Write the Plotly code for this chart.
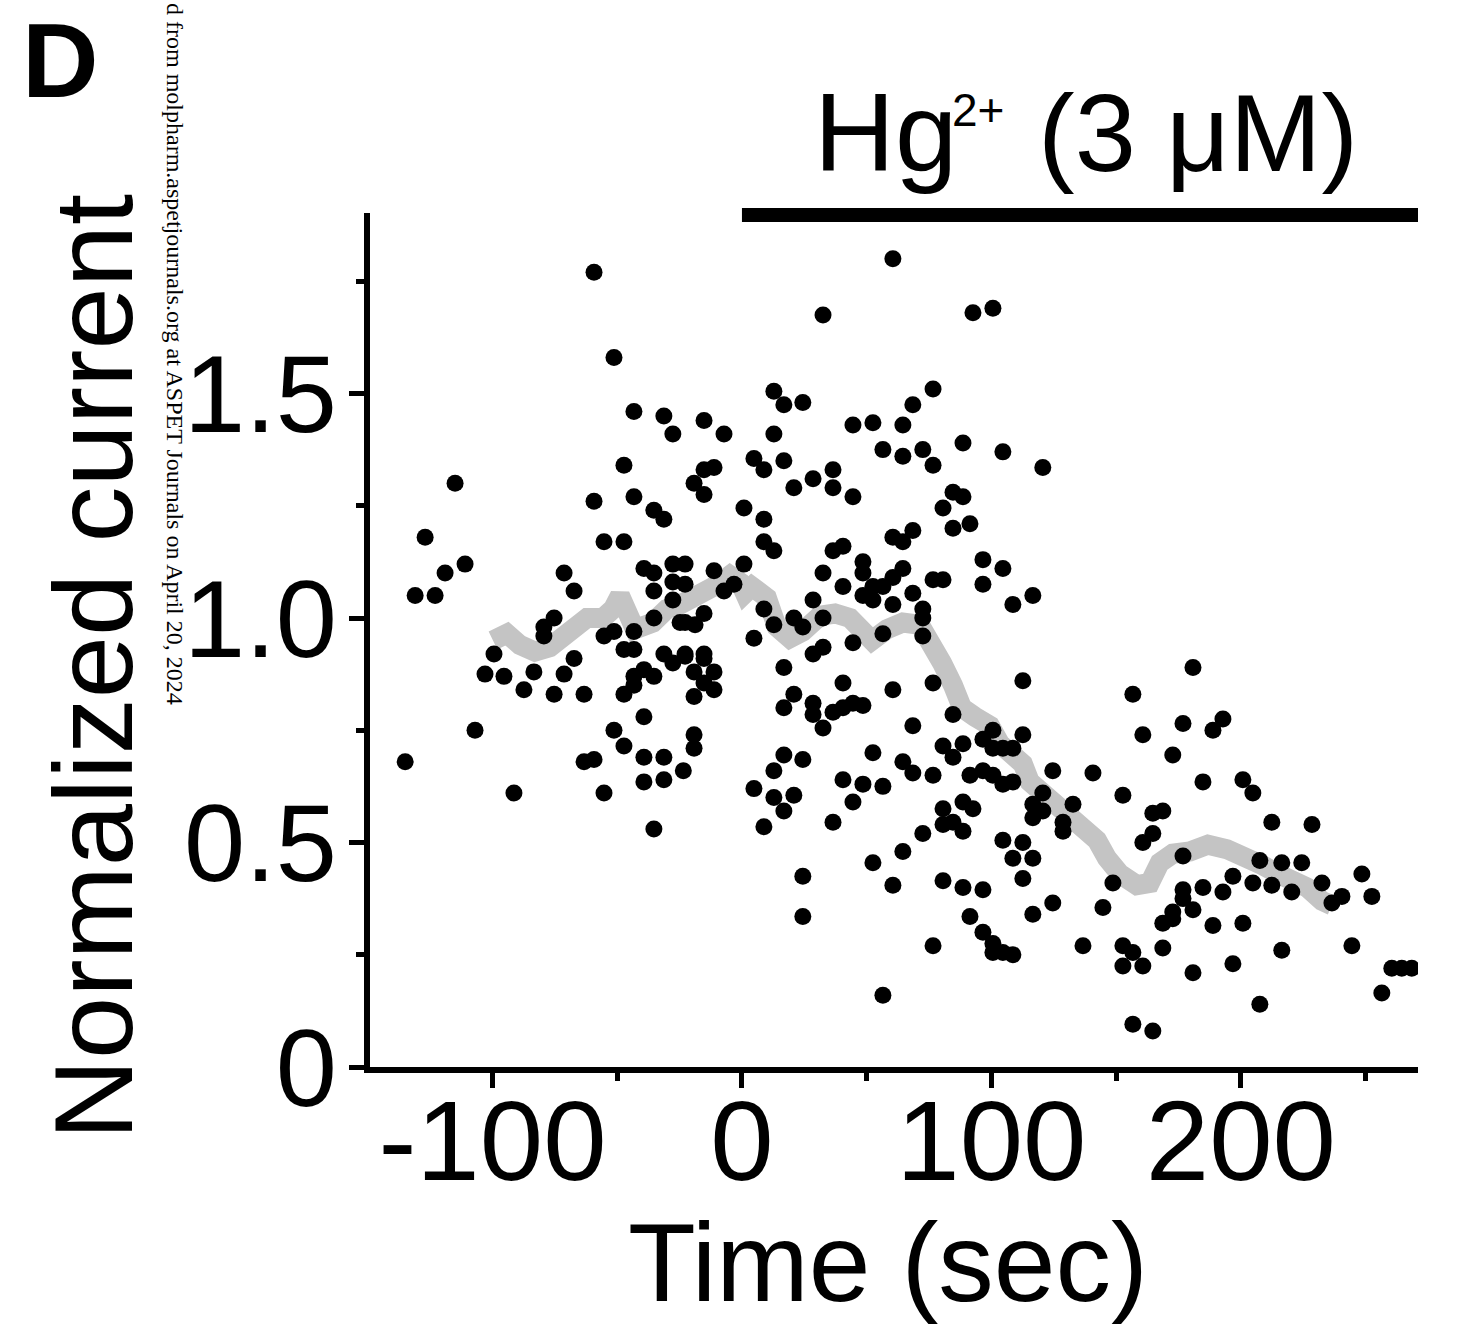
import plotly.graph_objects as go

# ---------------- data ----------------
time_sec = [
    -135, -131, -127, -123, -119, -115, -111, -107, -103, -99.4, -95.4, -91.4, -87.4, -83.4,
    -79.4, -79.4, -75.3, -75.3, -71.3, -71.3, -67.3, -67.3, -63.3, -63.3,
    -59.3, -59.3, -59.3, -55.3, -55.3, -55.3, -51.3, -51.3, -51.3,
    -47.3, -47.3, -47.3, -47.3, -47.3, -43.3, -43.3, -43.3, -43.3, -43.3, -43.3,
    -39.3, -39.3, -39.3, -39.3, -39.3, -35.3, -35.3, -35.3, -35.3, -35.3, -35.3,
    -31.3, -31.3, -31.3, -31.3, -31.3, -27.7, -27.7, -27.7, -27.7, -27.7,
    -24.8, -23.5, -22.8, -22.8, -22.8, -22.8, -22.8,
    -19.2, -18.8, -19.2, -19.2, -19.2, -19.2,
    -15.2, -15.2, -15.2, -15.2, -15.2, -15.2, -15.2,
    -11.2, -11.2, -11.2, -11.2, -7.2, -7.2, -3.2, 0.8, 0.8,
    4.8, 4.8, 4.8, 8.8, 8.8, 8.8, 8.8, 8.8,
    12.8, 12.8, 12.8, 12.8, 12.8, 12.8, 16.8, 16.8, 16.8, 16.8, 16.8, 16.8,
    20.8, 20.8, 20.8, 20.8, 24.4, 24.4, 24.4, 24.4, 24.4,
    28.5, 28.5, 28.5, 28.5, 28.5, 32.5, 32.5, 32.5, 32.5, 32.5,
    36.5, 36.5, 36.5, 36.5, 36.5, 40.5, 40.5, 40.5, 40.5, 40.5,
    44.5, 44.5, 44.5, 44.5, 44.5, 48.5, 48.5, 48.5, 48.5, 48.5,
    52.5, 52.5, 52.5, 52.5, 52.5, 56.5, 56.5, 56.5, 56.5, 56.5,
    60.5, 60.5, 60.5, 60.5, 60.5, 60.5, 64.5, 64.5, 64.5, 64.5, 64.5, 64.5,
    68.5, 68.5, 68.5, 68.5, 68.5, 72.5, 72.5, 72.5, 72.5, 72.5,
    76.6, 76.6, 76.6, 76.6, 76.6, 76.6, 80.6, 80.6, 80.6, 80.6, 80.6, 80.6,
    84.6, 84.6, 84.6, 84.6, 84.6, 88.6, 88.6, 88.6, 88.6, 88.6, 88.6,
    91.4, 91.4, 91.4, 92.6, 92.6,
    96.6, 96.6, 96.6, 96.6, 96.6, 96.6, 100.6, 100.6, 100.6, 100.6, 100.6, 100.6,
    104.6, 104.6, 104.6, 104.6, 104.6, 104.6, 108.6, 108.6, 108.6, 108.6, 108.6,
    112.6, 112.6, 112.6, 112.6, 116.6, 116.6, 116.6, 116.6, 116.6,
    120.6, 120.6, 120.6, 124.6, 124.6, 128.7, 128.7, 132.7, 136.7, 140.7, 144.7, 148.7,
    152.7, 152.7, 152.7, 156.7, 156.7, 156.7, 160.7, 160.7, 160.7,
    164.7, 164.7, 164.7, 168.7, 168.7, 168.7, 172.7, 172.7, 172.7,
    176.8, 176.8, 176.8, 176.8, 180.8, 180.8, 180.8, 184.8, 184.8,
    188.8, 188.8, 192.8, 192.8, 196.8, 196.8, 200.8, 200.8, 204.8, 204.8,
    207.6, 207.6, 212.4, 212.4, 216.4, 216.4, 220.4, 224.4, 228.5, 232.5, 236.5,
    240.5, 244.5, 248.5, 252.5, 256.5, 260.5, 264.5, 268.5,
]
norm_current = [
    0.68, 1.05, 1.18, 1.05, 1.10, 1.30, 1.12, 0.75, 0.875, 0.92, 0.87, 0.61, 0.84, 0.88,
    0.98, 0.96, 1.00, 0.83, 1.10, 0.875, 1.06, 0.91, 0.83, 0.68,
    1.77, 1.26, 0.685, 1.17, 0.96, 0.61, 1.58, 0.97, 0.75,
    1.34, 1.17, 0.93, 0.83, 0.715, 1.46, 1.27, 0.97, 0.93, 0.87, 0.85,
    1.11, 0.885, 0.78, 0.69, 0.635, 1.24, 1.10, 1.06, 1.00, 0.87, 0.53,
    1.45, 1.22, 0.92, 0.69, 0.64, 1.41, 1.12, 1.08, 1.04, 0.90,
    0.99, 0.66, 1.12, 1.075, 0.99, 0.92, 0.915,
    1.30, 0.985, 0.88, 0.825, 0.74, 0.71,
    1.44, 1.33, 1.275, 1.01, 0.92, 0.91, 0.855,
    1.335, 1.105, 0.88, 0.84, 1.41, 1.06, 1.075, 1.245, 1.12,
    1.355, 0.955, 0.62, 1.33, 1.22, 1.17, 1.02, 0.535,
    1.505, 1.41, 1.15, 0.985, 0.66, 0.60, 1.475, 1.35, 0.89, 0.80, 0.695, 0.57,
    1.29, 1.00, 0.83, 0.605, 1.48, 0.98, 0.685, 0.425, 0.335,
    1.31, 1.04, 0.92, 0.81, 0.785, 1.675, 1.10, 1.00, 0.935, 0.755,
    1.33, 1.29, 1.15, 0.79, 0.545, 1.16, 1.07, 0.855, 0.80, 0.64,
    1.43, 1.27, 0.945, 0.81, 0.59, 1.125, 1.10, 1.05, 0.805, 0.63,
    1.435, 1.07, 1.04, 0.70, 0.455, 1.375, 1.07, 0.965, 0.625, 0.16,
    1.80, 1.18, 1.09, 1.03, 0.84, 0.405, 1.43, 1.36, 1.17, 1.11, 0.68, 0.48,
    1.475, 1.195, 1.055, 0.76, 0.655, 1.375, 1.02, 1.00, 0.96, 0.52,
    1.51, 1.34, 1.085, 0.855, 0.65, 0.27, 1.245, 1.085, 0.715, 0.575, 0.54, 0.415,
    1.28, 1.20, 0.785, 0.69, 0.545, 1.39, 1.27, 0.72, 0.59, 0.525, 0.40,
    1.21, 0.65, 0.335, 1.68, 0.575,
    1.13, 1.075, 0.73, 0.66, 0.395, 0.30, 1.69, 0.75, 0.71, 0.65, 0.275, 0.255,
    1.37, 1.11, 0.71, 0.63, 0.505, 0.255, 1.03, 0.71, 0.635, 0.465, 0.25,
    0.86, 0.74, 0.50, 0.42, 1.05, 0.585, 0.555, 0.465, 0.34,
    1.335, 0.61, 0.57, 0.66, 0.365, 0.545, 0.525, 0.585, 0.27, 0.655, 0.355, 0.41,
    0.605, 0.27, 0.225, 0.83, 0.255, 0.095, 0.74, 0.50, 0.225,
    0.565, 0.52, 0.08, 0.57, 0.32, 0.265, 0.695, 0.345, 0.33,
    0.765, 0.47, 0.395, 0.375, 0.89, 0.35, 0.21, 0.635, 0.40,
    0.75, 0.315, 0.775, 0.39, 0.425, 0.23, 0.64, 0.32, 0.61, 0.41,
    0.46, 0.14, 0.545, 0.405, 0.455, 0.26, 0.39, 0.455, 0.54, 0.41, 0.365,
    0.38, 0.27, 0.43, 0.38, 0.165, 0.22, 0.22, 0.22,
]

# running average (grey trace)
avg_time = [
    -99.8, -94.2, -89, -83, -77, -70.1, -62.1, -55.7, -51.7, -48.9, -46.1, -42.9, -35.7,
    -30.1, -24.8, -18.8, -14.8, -9.6, -4.8, -0.8, 1.2, 4, 10, 14, 19.2, 24.4, 31.3,
    37.3, 43.3, 48.1, 52.1, 58.1, 64.5, 71.3, 76.2, 80.2, 84.6, 88.2, 93.4, 99.4,
    103.4, 107.4, 112.6, 115.4, 120.6, 127.5, 135.5, 142.3, 146.3, 151.5, 158.3,
    163.5, 167.5, 172.7, 179.6, 186.8, 194.4, 202.4, 208.4, 216.8, 226.5, 232.5, 236.5,
]
avg_current = [
    0.95, 0.965, 0.94, 0.925, 0.935, 0.97, 1.00, 1.00, 1.02, 1.05, 1.00, 0.975, 0.99,
    1.02, 1.03, 1.045, 1.06, 1.075, 1.095, 1.08, 1.055, 1.07, 1.045, 0.98, 0.955, 0.97, 1.005,
    1.01, 1.00, 0.975, 0.95, 0.975, 0.99, 0.985, 0.945, 0.90, 0.85, 0.80, 0.78, 0.76,
    0.72, 0.70, 0.675, 0.635, 0.61, 0.58, 0.535, 0.505, 0.465, 0.43, 0.405,
    0.41, 0.455, 0.475, 0.48, 0.495, 0.485, 0.47, 0.45, 0.425, 0.40, 0.37, 0.36,
]

x_tickvals = [-100, 0, 100, 200]
x_ticktext = ["-100", "0", "100", "200"]
x_minor = [-50, 50, 150, 250]
y_tickvals = [0, 0.5, 1.0, 1.5]
y_ticktext = ["0", "0.5", "1.0", "1.5"]
y_minor = [0.25, 0.75, 1.25, 1.75]

HG_START = 0        # sec, start of Hg2+ application
X_RANGE = [-149.1, 271]
Y_RANGE = [0, 1.902]

# ---------------- layout geometry ----------------
W, H = 1458, 1331
ML, MR, MT, MB = 370, 40, 213, 264
PW, PH = W - ML - MR, H - MT - MB


def px_x(p):
    return (p - ML) / PW


def px_y(p):
    return 1 - (p - MT) / PH


FONT = "Liberation Sans, Arial, Helvetica, sans-serif"

fig = go.Figure()
fig.add_trace(go.Scatter(
    x=avg_time, y=avg_current, mode="lines",
    line=dict(color="#c4c4c4", width=20), hoverinfo="skip", showlegend=False,
))
fig.add_trace(go.Scatter(
    x=time_sec, y=norm_current, mode="markers",
    marker=dict(color="black", size=17, line=dict(width=0)), showlegend=False,
))

axis_common = dict(
    showline=True, linecolor="black", linewidth=6,
    ticks="outside", ticklen=15, tickwidth=5, tickcolor="black",
    showgrid=False, zeroline=False,
)
fig.update_xaxes(
    range=X_RANGE, tickmode="array", tickvals=x_tickvals, ticktext=x_ticktext,
    tickfont=dict(family=FONT, size=114, color="black"),
    ticklabelstandoff=-45,
    minor=dict(tickmode="array", tickvals=x_minor, ticks="outside", ticklen=8,
               tickwidth=5, tickcolor="black", showgrid=False),
    **axis_common,
)
fig.update_yaxes(
    range=Y_RANGE, tickmode="array", tickvals=y_tickvals, ticktext=y_ticktext,
    tickfont=dict(family=FONT, size=110, color="black"),
    ticklabelstandoff=-10,
    minor=dict(tickmode="array", tickvals=y_minor, ticks="outside", ticklen=8,
               tickwidth=5, tickcolor="black", showgrid=False),
    **axis_common,
)

# Hg2+ application bar
fig.add_shape(type="rect", xref="x", yref="paper",
              x0=HG_START, x1=X_RANGE[1], y0=px_y(222), y1=px_y(208),
              fillcolor="black", line=dict(width=0), layer="above")

ann = []
ann.append(dict(text="D", x=px_x(60), y=px_y(60), xref="paper", yref="paper",
                showarrow=False, xanchor="center", yanchor="middle",
                font=dict(family=FONT, size=106, color="black", weight="bold")))
ann.append(dict(text="Normalized current", x=px_x(93), y=px_y(667), xref="paper", yref="paper",
                showarrow=False, textangle=-90, xanchor="center", yanchor="middle",
                font=dict(family=FONT, size=112, color="black")))
ann.append(dict(text="Time (sec)", x=px_x(888), y=px_y(1263), xref="paper", yref="paper",
                showarrow=False, xanchor="center", yanchor="middle",
                font=dict(family=FONT, size=111, color="black")))
ann.append(dict(text="Hg", x=px_x(812), y=px_y(133), xref="paper", yref="paper",
                showarrow=False, xanchor="left", yanchor="middle",
                font=dict(family=FONT, size=112, color="black")))
ann.append(dict(text="2+", x=px_x(950), y=px_y(110), xref="paper", yref="paper",
                showarrow=False, xanchor="left", yanchor="middle",
                font=dict(family=FONT, size=46, color="black")))
ann.append(dict(text="(3 μM)", x=px_x(1036), y=px_y(133), xref="paper", yref="paper",
                showarrow=False, xanchor="left", yanchor="middle",
                font=dict(family=FONT, size=110, color="black")))
ann.append(dict(text="d from molpharm.aspetjournals.org at ASPET Journals on April 20, 2024",
                x=px_x(175), y=px_y(1), xref="paper", yref="paper",
                showarrow=False, textangle=90, xanchor="center", yanchor="top",
                font=dict(family="Liberation Serif, Times New Roman, serif", size=24, color="black")))

fig.update_layout(
    width=W, height=H, autosize=False,
    margin=dict(l=ML, r=MR, t=MT, b=MB, pad=0),
    paper_bgcolor="white", plot_bgcolor="white",
    annotations=ann, showlegend=False,
)

fig.write_html("out.html", include_plotlyjs=True, full_html=True,
               config={"displayModeBar": False})
